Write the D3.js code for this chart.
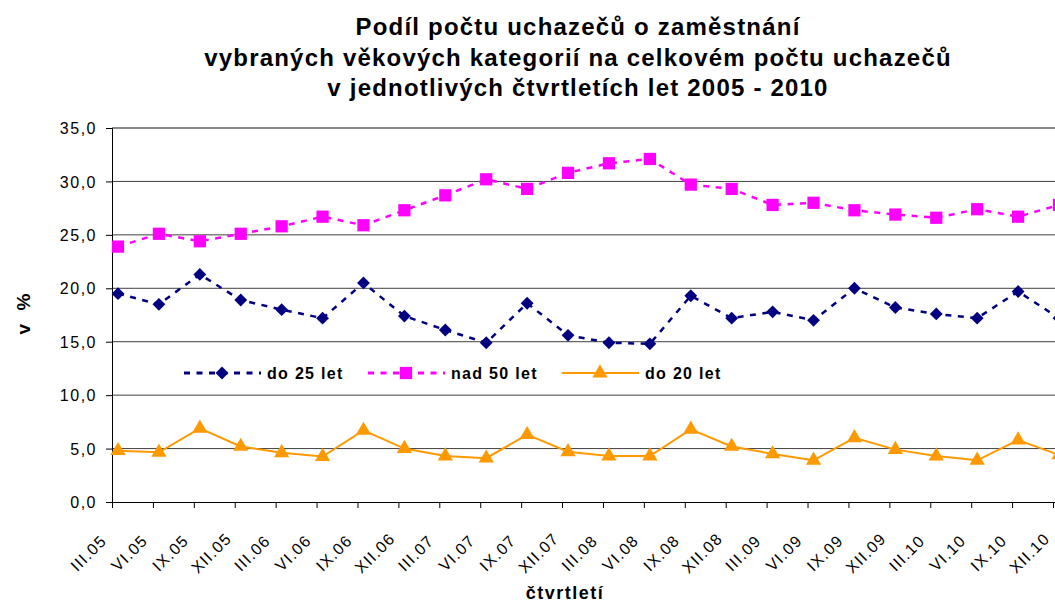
<!DOCTYPE html>
<html>
<head>
<meta charset="utf-8">
<script src="https://cdn.jsdelivr.net/npm/d3@7"></script>
<style>
  body { margin: 0; background: #fff; }
  svg { display: block; font-family: "Liberation Sans", Arial, sans-serif; }
</style>
</head>
<body>
<svg id="chart"></svg>
<script>
// quarters 2005 - 2010
var quarters = ["III.05","VI.05","IX.05","XII.05","III.06","VI.06","IX.06","XII.06",
                "III.07","VI.07","IX.07","XII.07","III.08","VI.08","IX.08","XII.08",
                "III.09","VI.09","IX.09","XII.09","III.10","VI.10","IX.10","XII.10"];
var do25 = [19.5,18.5,21.3,18.9,18.0,17.2,20.5,17.4,16.1,14.9,18.6,15.6,
            14.9,14.8,19.3,17.2,17.8,17.0,20.0,18.2,17.6,17.2,19.7,17.2];
var nad50 = [23.9,25.1,24.4,25.1,25.8,26.7,25.9,27.3,28.7,30.2,29.3,30.8,
             31.7,32.1,29.7,29.3,27.8,28.0,27.3,26.9,26.6,27.4,26.7,27.8];
var do20 = [4.8,4.65,6.9,5.2,4.6,4.25,6.7,5.0,4.3,4.1,6.3,4.7,
            4.3,4.3,6.8,5.2,4.5,3.9,6.0,4.9,4.3,3.9,5.8,4.4];
var yTicks = [0,5,10,15,20,25,30,35];
var titleLines = ["Podíl počtu uchazečů o zaměstnání",
                  "vybraných věkových kategorií na celkovém počtu uchazečů",
                  "v jednotlivých čtvrtletích let 2005 - 2010"];

var width = 1055, height = 603;
var plotLeft = 112, plotRight = 1053, plotTop = 128, plotBottom = 502;
var shift = 6; // points sit a little right of their tick

var series = [
  {name: "do 25 let", values: do25, color: "#000080", dash: "6,6.5", width: 2.5, marker: d3.symbolDiamond2, size: 105},
  {name: "nad 50 let", values: nad50, color: "#FF00FF", dash: "6,6.5", width: 2.5, marker: d3.symbolSquare, size: 150},
  {name: "do 20 let", values: do20, color: "#FF9900", dash: null, width: 2, marker: d3.symbolTriangle, size: 100}
];

var svg = d3.select("#chart").attr("width", width).attr("height", height);

var x = d3.scalePoint().domain(quarters).range([plotLeft, plotRight]);
var y = d3.scaleLinear().domain([0, 35]).range([plotBottom, plotTop]);

// title
svg.append("g").selectAll("text")
  .data(titleLines)
  .enter().append("text")
  .attr("x", 578)
  .attr("y", (d, i) => 35 + i * 30.5)
  .attr("text-anchor", "middle")
  .style("font-size", "24px")
  .style("font-weight", "bold")
  .style("letter-spacing", "1.2px")
  .text(d => d);

// grid lines
svg.append("g").selectAll("line")
  .data(yTicks.filter(d => d > 0))
  .enter().append("line")
  .attr("x1", plotLeft).attr("x2", width)
  .attr("y1", d => y(d)).attr("y2", d => y(d))
  .attr("stroke", d => d == 35 ? "#8a8a8a" : "#404040")
  .attr("stroke-width", d => d == 35 ? 2 : 1);

// y axis
var yAxis = svg.append("g")
  .attr("transform", "translate(" + plotLeft + ",0)")
  .call(d3.axisLeft(y).tickValues(yTicks).tickSize(6).tickPadding(9)
    .tickFormat(d => d3.format(".1f")(d).replace(".", ",")));
yAxis.select(".domain").attr("stroke", "#000");
yAxis.selectAll("text").style("font-size", "16px").style("letter-spacing", "1.5px")
  .attr("dy", "0.35em").attr("fill", "#000");

// x axis
var xAxis = svg.append("g")
  .attr("transform", "translate(0," + plotBottom + ")")
  .call(d3.axisBottom(x).tickSize(6).tickSizeOuter(0));
xAxis.select(".domain").attr("stroke", "#000").attr("d", "M" + plotLeft + ",0.5H" + width);
xAxis.selectAll("text")
  .style("font-size", "16px")
  .style("letter-spacing", "1.2px")
  .attr("text-anchor", "middle")
  .attr("fill", "#000")
  .attr("dy", 0).attr("y", 0)
  .attr("transform", "translate(-20,55) rotate(-45)");

// axis titles
svg.append("text")
  .attr("transform", "translate(30,312) rotate(-90)")
  .attr("text-anchor", "middle")
  .style("font-size", "19px").style("font-weight", "bold").style("letter-spacing", "4px")
  .text("v %");
svg.append("text")
  .attr("x", 565).attr("y", 599)
  .attr("text-anchor", "middle")
  .style("font-size", "18px").style("font-weight", "bold").style("letter-spacing", "1.5px")
  .text("čtvrtletí");

// lines and markers
var line = d3.line().x((d, i) => x(quarters[i]) + shift).y(d => y(d));
series.forEach(function (s) {
  svg.append("path")
    .datum(s.values)
    .attr("d", line)
    .attr("fill", "none")
    .attr("stroke", s.color)
    .attr("stroke-width", s.width)
    .attr("stroke-dasharray", s.dash);
  svg.append("g").selectAll("path")
    .data(s.values)
    .enter().append("path")
    .attr("d", d3.symbol().type(s.marker).size(s.size))
    .attr("transform", (d, i) => "translate(" + (x(quarters[i]) + shift) + "," + y(d) + ")")
    .attr("fill", s.color);
});

// legend
var legendX = [184, 368, 562];
var legend = svg.append("g").selectAll("g")
  .data(series)
  .enter().append("g")
  .attr("transform", (d, i) => "translate(" + legendX[i] + ",373)");
legend.append("line")
  .attr("x1", 0).attr("x2", 77)
  .attr("stroke", d => d.color)
  .attr("stroke-width", d => d.dash ? 3 : 2)
  .attr("stroke-dasharray", d => d.dash);
legend.append("path")
  .attr("d", d => d3.symbol().type(d.marker).size(d.size)())
  .attr("transform", "translate(38,0)")
  .attr("fill", d => d.color);
legend.append("text")
  .attr("x", 83).attr("y", 6)
  .style("font-size", "16px").style("font-weight", "bold").style("letter-spacing", "1.3px")
  .text(d => d.name);
</script>
</body>
</html>
